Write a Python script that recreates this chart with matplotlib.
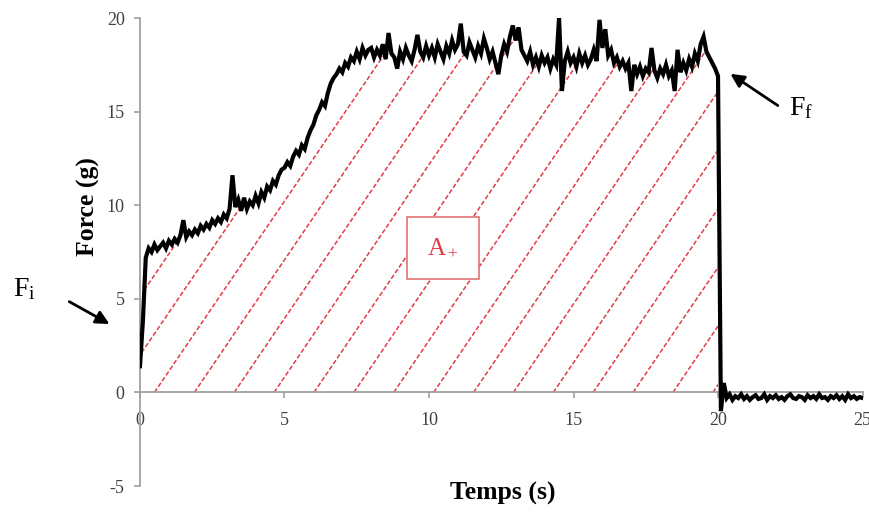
import matplotlib
matplotlib.use("Agg")
import matplotlib.pyplot as plt
import numpy as np

plt.rcParams['font.family'] = ['Liberation Serif', 'DejaVu Serif']
plt.rcParams['mathtext.fontset'] = 'custom'
plt.rcParams['mathtext.rm'] = 'Liberation Serif'
plt.rcParams['mathtext.it'] = 'Liberation Serif'
plt.rcParams['axes.unicode_minus'] = False

# force readings (g), one sample every 0.1 s
dt = 0.1
force_rise = [  # 0.0 - 7.9 s
    1.4, 3.8, 7.2, 7.7, 7.5, 7.9, 7.6, 7.8, 8.0, 7.7,
    8.1, 7.9, 8.2, 8.0, 8.4, 9.2, 8.3, 8.6, 8.4, 8.7,
    8.5, 8.9, 8.7, 9.0, 8.8, 9.2, 9.0, 9.3, 9.1, 9.5,
    9.3, 9.8, 11.6, 9.9, 10.3, 9.7, 10.4, 9.8, 10.2, 10.0,
    10.5, 10.1, 10.7, 10.4, 11.0, 10.8, 11.3, 11.1, 11.6, 11.9,
    12.0, 12.3, 12.1, 12.6, 12.9, 12.7, 13.2, 13.0, 13.6, 14.0,
    14.3, 14.8, 15.1, 15.5, 15.3, 16.0, 16.5, 16.8, 17.0, 17.3,
    17.1, 17.6, 17.4, 17.9, 17.7, 18.2, 17.8, 18.4, 18.0, 18.3,
]
force_plateau = [  # 8.0 - 20.0 s
    18.4, 17.9, 18.3, 18.0, 18.6, 17.8, 19.2, 18.1, 17.9, 17.3,
    18.2, 17.8, 18.4, 18.0, 17.7, 18.3, 19.1, 18.2, 17.9, 18.5,
    18.0, 18.4, 17.9, 18.6, 18.2, 17.8, 18.5, 18.1, 18.8, 18.3,
    18.6, 19.7, 18.2, 18.0, 18.7, 18.3, 17.9, 18.5, 18.1, 18.9,
    18.4, 17.8, 18.2, 17.6, 17.0, 18.0, 18.6, 18.2, 19.0, 19.6,
    18.8, 19.5, 18.3, 18.0, 17.7, 18.2, 17.5, 17.9, 17.4, 18.0,
    17.6, 17.9, 17.3, 17.8, 17.5, 20.0, 16.1, 17.7, 18.2, 17.6,
    17.9, 17.4, 18.1, 17.6, 18.0, 17.5, 17.8, 18.3, 17.7, 19.9,
    18.4, 19.4, 18.0, 18.3, 17.6, 17.9, 17.4, 17.7, 17.3, 17.6,
    16.1, 17.5, 17.0, 17.4, 16.9, 17.3, 17.1, 18.4, 17.2, 16.8,
    17.3, 17.0, 17.5, 16.9, 17.2, 16.1, 18.3, 17.1, 17.6, 17.2,
    17.8, 17.4, 18.1, 17.7, 18.6, 19.0, 18.2, 17.9, 17.6, 17.3,
    16.9,
]
force_release = [  # 20.1 - 25.0 s
    -1.0, 0.5, -0.3, -0.1,
    -0.4, -0.2, -0.3, -0.1, -0.35,
    -0.2, -0.4, -0.25, -0.15, -0.35, -0.3, -0.1, -0.4, -0.2, -0.3,
    -0.15, -0.35, -0.25, -0.4, -0.2, -0.1, -0.3, -0.35, -0.2, -0.25,
    -0.4, -0.15, -0.3, -0.2, -0.35, -0.1, -0.3, -0.25, -0.4, -0.2,
    -0.3, -0.15, -0.35, -0.2, -0.4, -0.1, -0.3, -0.2, -0.35, -0.25,
    -0.3,
]
force = np.array(force_rise + force_plateau + force_release)
t = np.round(np.arange(len(force)) * dt, 2)

red = '#e23b48'
fig = plt.figure(figsize=(8.7, 5.13), dpi=100)
ax = fig.add_axes([0.1609, 0.0526, 0.8305, 0.9123])

# area under the curve, hatched with dashed red diagonals
poly = ax.fill_between(t, 0, force, where=t <= 20.0, facecolor='none', edgecolor='none')
clip = poly.get_paths()[0]
slope = 2.27
for k in range(-7, 15):
    c = 0.5 + 1.38 * k
    ln, = ax.plot([c, c + 22 / slope], [0, 22], color=red, lw=1.1, zorder=1)
    ln.set_dashes((3, 1.5))
    ln.set_clip_path(clip, ax.transData)

ax.plot(t, force, color='black', lw=3.0, zorder=3, solid_joinstyle='miter')

ax.text(10.48, 7.73, r'$\mathrm{A_+}$', ha='center', va='center', color=red,
        fontsize=18, zorder=4,
        bbox=dict(boxstyle='square,pad=0.8', fc='white', ec='#e07272', lw=1.2))

ax.set_xlim(0, 25)
ax.set_ylim(-5, 20)
ax.set_xticks([0, 5, 10, 15, 20, 25])
ax.set_yticks([-5, 0, 5, 10, 15, 20])
for s in ['top', 'right']:
    ax.spines[s].set_visible(False)
ax.spines['bottom'].set_position(('data', 0))
for s in ['left', 'bottom']:
    ax.spines[s].set_color('#a0a0a0')
    ax.spines[s].set_linewidth(1.3)
ax.tick_params(axis='both', colors='#a0a0a0', labelcolor='#404040', labelsize=13, length=4, width=1.2)
ax.tick_params(axis='x', pad=10)
ax.tick_params(axis='y', pad=7)
ax.set_facecolor('none')

ax.text(-0.072, 0.598, 'Force (g)', transform=ax.transAxes, rotation=90,
        ha='center', va='center', fontsize=18.5, fontweight='bold')
fig.text(503 / 870, 1 - 493 / 513, 'Temps (s)', ha='center', va='center',
         fontsize=18.5, fontweight='bold')

# F_i and F_f markers
ax.annotate('', xy=(-0.97, 3.58), xytext=(-2.53, 4.92), annotation_clip=False,
            arrowprops=dict(arrowstyle='-|>', color='black', lw=2, mutation_scale=20))
ax.text(-4.0, 5.5, r'$\mathrm{F_i}$', ha='center', va='center', fontsize=20,
        clip_on=False)
ax.annotate('', xy=(20.35, 17.1), xytext=(22.15, 15.24), annotation_clip=False,
            arrowprops=dict(arrowstyle='-|>', color='black', lw=2, mutation_scale=20))
ax.text(22.45, 15.2, r'$\mathrm{F_f}$', ha='left', va='center', fontsize=20,
        clip_on=False)

fig.savefig('out.png', dpi=100)
